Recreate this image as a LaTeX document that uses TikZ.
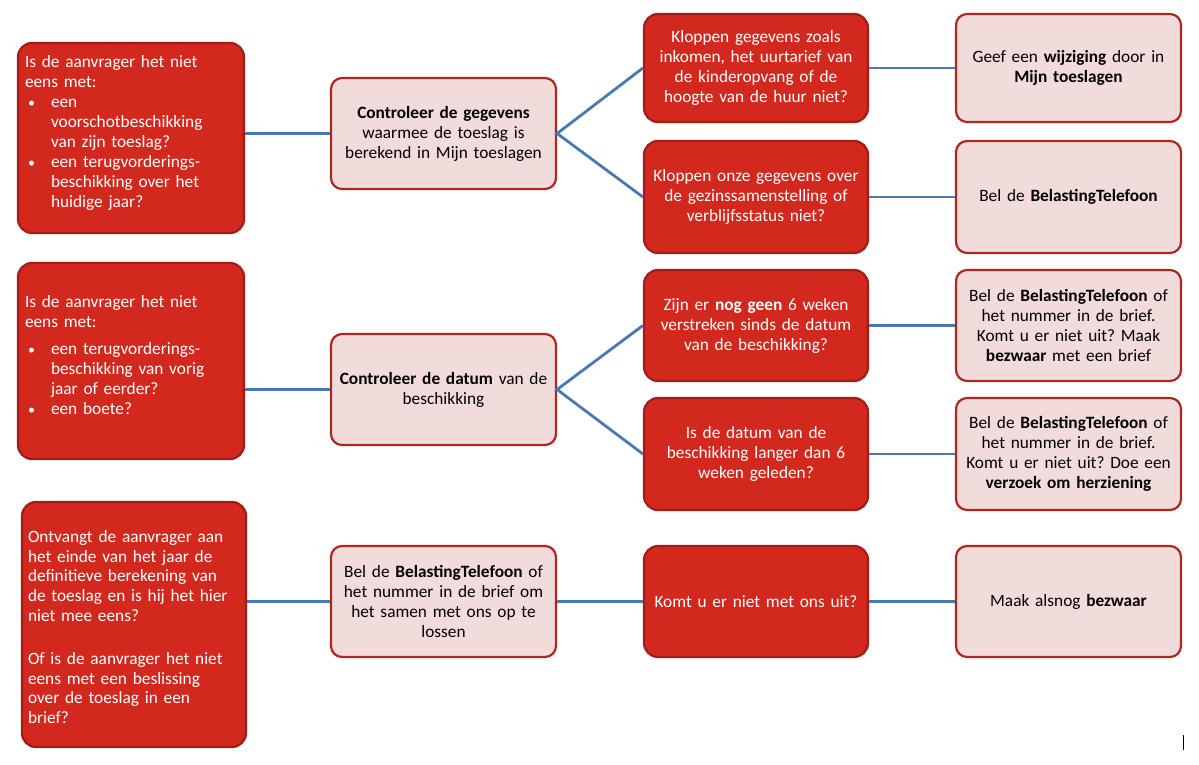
\documentclass[tikz,border=0pt]{standalone}
\usepackage{fontspec}
\setmainfont{Carlito}
\definecolor{redfill}{RGB}{210,40,30}
\definecolor{redborder}{RGB}{165,28,22}
\definecolor{pinkfill}{RGB}{242,220,219}
\definecolor{pinkborder}{RGB}{178,38,30}
\definecolor{linkblue}{RGB}{74,120,178}
\newcommand\mybul{\hspace*{3pt}\makebox[23pt][l]{\fontsize{14}{20}\selectfont\textbullet}}
\newcommand\myind{\hspace*{26pt}}
\begin{document}
\frenchspacing
\begin{tikzpicture}[x=1pt,y=-1pt,
  base/.style={rectangle, line width=2.2pt, inner sep=0pt, text width=216pt,
    font=\fontsize{17.3}{20}\selectfont\frenchspacing},
  qbox/.style={base, rounded corners=14pt, fill=redfill, draw=redborder, text=white},
  lbox/.style={qbox, align=left, text width=212pt},
  ltext/.style={rectangle, inner sep=0pt, text=white, align=left, text width=212pt,
    font=\fontsize{17.3}{20}\selectfont\frenchspacing},
  abox/.style={base, rounded corners=11pt, fill=pinkfill, draw=pinkborder, text=black, align=center},
  link/.style={draw=linkblue, line width=2.8pt}]
\useasboundingbox (0,0) rectangle (1199,765);

% left column
\node[lbox, minimum width=226pt, minimum height=190pt] (L1) at (131,138) {};
\node[ltext] (L1t) at (131,133) {Is de aanvrager het niet\\
eens met:\\
\mybul een\\
\myind voorschotbeschikking\\
\myind van zijn toeslag?\\
\mybul een terugvorderings-\\
\myind beschikking over het\\
\myind huidige jaar?};

\node[lbox, minimum width=226pt, minimum height=196pt] (L2) at (131,361) {};
\node[ltext] (L2t) at (131,355) {Is de aanvrager het niet\\
eens met:\\[7pt]
\mybul een terugvorderings-\\
\myind beschikking van vorig\\
\myind jaar of eerder?\\
\mybul een boete?};

\node[lbox, minimum width=224pt, minimum height=245pt] (L3) at (134,624.5) {};
\node[ltext] (L3t) at (134,627) {Ontvangt de aanvrager aan\\[-0.3pt]
het einde van het jaar de\\[-0.3pt]
definitieve berekening van\\[-0.3pt]
de toeslag en is hij het hier\\[-0.3pt]
niet mee eens?\\[23pt]
Of is de aanvrager het niet\\[-0.3pt]
eens met een beslissing\\[-0.3pt]
over de toeslag in een\\[-0.3pt]
brief?};

% second column
\node[abox, minimum width=225pt, minimum height=111pt] (C1) at (443.5,133.5) {\textbf{Controleer de gegevens}\\ waarmee de toeslag is\\ berekend in Mijn toeslagen};
\node[abox, minimum width=225pt, minimum height=111pt] (C2) at (443.5,389.5) {\textbf{Controleer de datum} van de\\ beschikking};
\node[abox, minimum width=225pt, minimum height=111pt] (C3) at (443.5,601.5) {Bel de \textbf{BelastingTelefoon} of\\ het nummer in de brief om\\ het samen met ons op te\\ lossen};

% third column
\node[qbox, align=center, minimum width=224pt, minimum height=108pt] (R1a) at (756,68) {Kloppen gegevens zoals\\ inkomen, het uurtarief van\\ de kinderopvang of de\\ hoogte van de huur niet?};
\node[qbox, align=center, minimum width=224pt, minimum height=112pt] (R1b) at (756,197) {Kloppen onze gegevens over\\ de gezinssamenstelling of\\ verblijfsstatus niet?};
\node[qbox, align=center, minimum width=224pt, minimum height=111pt] (R2a) at (756,325.5) {Zijn er \textbf{nog geen} 6 weken\\ verstreken sinds de datum\\ van de beschikking?};
\node[qbox, align=center, minimum width=224pt, minimum height=112pt] (R2b) at (756,454) {Is de datum van de\\ beschikking langer dan 6\\ weken geleden?};
\node[qbox, align=center, minimum width=224pt, minimum height=111pt] (R3) at (756,601.5) {Komt u er niet met ons uit?};

% fourth column
\node[abox, minimum width=225pt, minimum height=108pt] (F1a) at (1068.5,68) {Geef een \textbf{wijziging} door in\\ \textbf{Mijn toeslagen}};
\node[abox, minimum width=225pt, minimum height=112pt] (F1b) at (1068.5,197) {Bel de \textbf{BelastingTelefoon}};
\node[abox, minimum width=225pt, minimum height=111pt] (F2a) at (1068.5,325.5) {Bel de \textbf{BelastingTelefoon} of\\ het nummer in de brief.\\ Komt u er niet uit? Maak\\ \textbf{bezwaar} met een brief};
\node[abox, minimum width=225pt, minimum height=112pt] (F2b) at (1068.5,454) {Bel de \textbf{BelastingTelefoon} of\\ het nummer in de brief.\\ Komt u er niet uit? Doe een\\ \textbf{verzoek om herziening}};
\node[abox, minimum width=225pt, minimum height=111pt] (F3) at (1068.5,601.5) {Maak alsnog \textbf{bezwaar}};

% connectors
\draw[link] (L1.east |- C1.west) -- (C1.west);
\draw[link] (L2.east |- C2.west) -- (C2.west);
\draw[link] (L3.east |- C3.west) -- (C3.west);
\draw[link] (R1a.west) -- (C1.east) -- (R1b.west);
\draw[link] (R2a.west) -- (C2.east) -- (R2b.west);
\draw[link] (C3.east) -- (R3.west);
\draw[link] (R1a.east) -- (F1a.west);
\draw[link] (R1b.east) -- (F1b.west);
\draw[link] (R2a.east) -- (F2a.west);
\draw[link] (R2b.east) -- (F2b.west);
\draw[link] (R3.east) -- (F3.west);

% small mark at bottom right
\draw[line width=1pt, black] (1183,735) -- (1183,750);
\end{tikzpicture}
\end{document}
